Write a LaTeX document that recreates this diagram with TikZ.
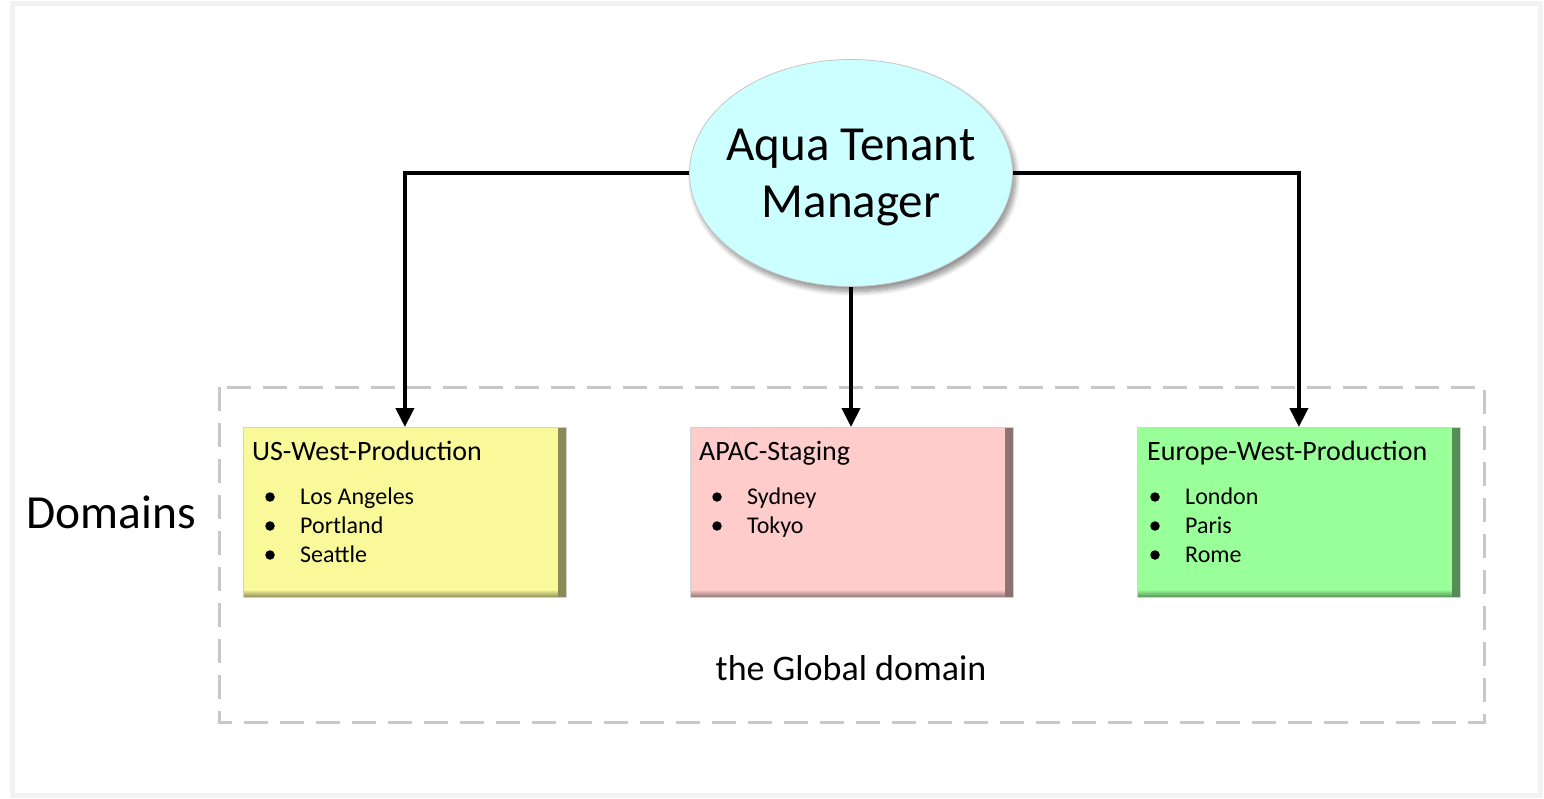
\documentclass[tikz,border=0pt]{standalone}
\usepackage{fontspec}
\setmainfont{Carlito}
\usetikzlibrary{arrows.meta,shapes.geometric,shadows.blur,calc}
\definecolor{aquafill}{HTML}{CCFFFF}
\definecolor{yelfill}{HTML}{F9F99A}
\definecolor{pinkfill}{HTML}{FFCCCC}
\definecolor{grnfill}{HTML}{99FF99}
\definecolor{framegray}{HTML}{F2F2F2}
\definecolor{dashgray}{HTML}{C8C8C8}
\tikzset{
  conn/.style={line width=4pt,-{Triangle[width=18pt,length=19pt]}},
  domainbox/.style={rectangle,fill=#1,draw=gray!35,line width=0.8pt,
    minimum width=323pt,minimum height=170pt,inner sep=0pt,anchor=north west,
    path picture={
      \shade[left color=#1,right color=#1!55!black]
        ([xshift=-8pt]path picture bounding box.north east) rectangle (path picture bounding box.south east);
      \shade[top color=#1,bottom color=#1!55!black]
        ([yshift=8pt]path picture bounding box.south west) rectangle ([xshift=-8pt]path picture bounding box.south east);
      \fill[#1!55!black]
        ([yshift=8pt,xshift=-8pt]path picture bounding box.south east) rectangle (path picture bounding box.south east);
    }},
  boxtitle/.style={anchor=base west,inner sep=0pt,font=\fontsize{28}{34}\selectfont},
  bullettext/.style={anchor=base west,inner sep=0pt,font=\fontsize{24}{29}\selectfont},
  bulletdot/.style={circle,fill=black,inner sep=0pt,minimum size=9.5pt}
}
\begin{document}
\begin{tikzpicture}[x=1pt,y=-1pt]
\useasboundingbox (0,0) rectangle (1544,798);
% outer frame
\draw[line width=5pt,framegray] (12.5,3) rectangle (1540.5,795.5);
% dashed global domain
\draw[line width=3pt,dashgray,dash pattern=on 24pt off 12pt] (219,387) rectangle (1484,722);
% manager ellipse
\node[ellipse,fill=aquafill,draw=gray!45,line width=0.8pt,minimum width=323pt,minimum height=227pt,inner sep=0pt,
  blur shadow={shadow xshift=3pt,shadow yshift=-5pt,shadow blur radius=5pt,shadow blur steps=10,shadow opacity=45}] (tm) at (851,173) {};
\node[align=center,inner sep=0pt,font=\fontsize{49}{57}\selectfont] (tmt) at (851,177) {Aqua Tenant\\Manager};
% domain boxes
\node[domainbox=yelfill] (usw) at (243,427) {};
\node[domainbox=pinkfill] (apac) at (690,427) {};
\node[domainbox=grnfill] (euw) at (1137,427) {};
% titles
\node[boxtitle] (uswt) at ($(usw.north west)+(9,33)$) {US-West-Production};
\node[boxtitle] (apact) at ($(apac.north west)+(9,33)$) {APAC-Staging};
\node[boxtitle] (euwt) at ($(euw.north west)+(10,33)$) {Europe-West-Production};
% US-West bullets
\node[bulletdot] (ub1) at ($(usw.north west)+(27,70)$) {};
\node[bulletdot] (ub2) at ($(usw.north west)+(27,99)$) {};
\node[bulletdot] (ub3) at ($(usw.north west)+(27,128)$) {};
\node[bullettext] (ut1) at ($(usw.north west)+(57,77)$) {Los Angeles};
\node[bullettext] (ut2) at ($(usw.north west)+(57,106)$) {Portland};
\node[bullettext] (ut3) at ($(usw.north west)+(57,135)$) {Seattle};
% APAC bullets
\node[bulletdot] (ab1) at ($(apac.north west)+(27,70)$) {};
\node[bulletdot] (ab2) at ($(apac.north west)+(27,99)$) {};
\node[bullettext] (at1) at ($(apac.north west)+(57,77)$) {Sydney};
\node[bullettext] (at2) at ($(apac.north west)+(57,106)$) {Tokyo};
% Europe bullets
\node[bulletdot] (eb1) at ($(euw.north west)+(18,70)$) {};
\node[bulletdot] (eb2) at ($(euw.north west)+(18,99)$) {};
\node[bulletdot] (eb3) at ($(euw.north west)+(18,128)$) {};
\node[bullettext] (et1) at ($(euw.north west)+(48,77)$) {London};
\node[bullettext] (et2) at ($(euw.north west)+(48,106)$) {Paris};
\node[bullettext] (et3) at ($(euw.north west)+(48,135)$) {Rome};
% connectors
\draw[conn] (tm.west) -| (usw.north);
\draw[conn] (tm.east) -| (euw.north);
\draw[conn] (tm.south) -- (tm.south |- apac.north);
% labels
\node[font=\fontsize{47.5}{55}\selectfont,inner sep=0pt] (dom) at (111,512) {Domains};
\node[font=\fontsize{36}{42}\selectfont,inner sep=0pt] (glob) at (851,668) {the Global domain};
\end{tikzpicture}
\end{document}
